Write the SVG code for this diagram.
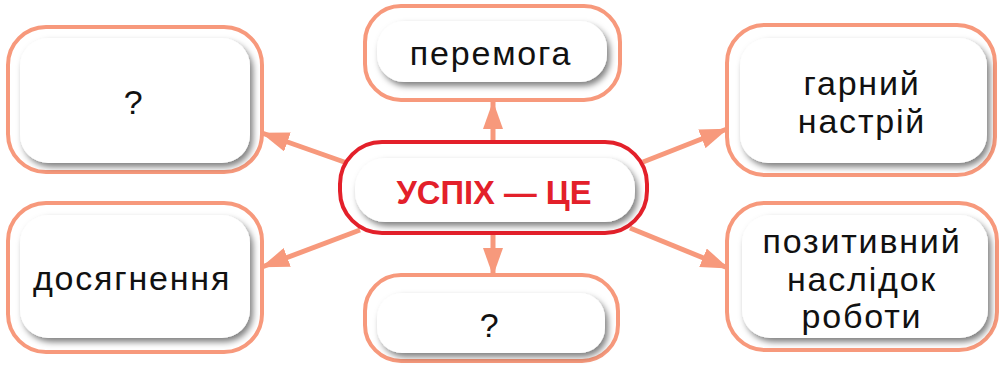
<svg xmlns="http://www.w3.org/2000/svg" width="1000" height="365" viewBox="0 0 1000 365">
<defs>
<filter id="sh" x="-10%" y="-10%" width="125%" height="130%">
<feDropShadow dx="3" dy="4" stdDeviation="3" flood-color="#000" flood-opacity="0.5"/>
</filter>
<marker id="ah" viewBox="0 0 28 20" refX="27" refY="10" markerWidth="28" markerHeight="20" markerUnits="userSpaceOnUse" orient="auto">
<path d="M0,0 L28,10 L0,20 z" fill="#f7997c"/>
</marker>
<style>
.outer{fill:#fff;stroke:#f7997c;stroke-width:4}
.inner{fill:#fff;filter:url(#sh)}
.t{font-family:"Liberation Sans",Arial,sans-serif;font-size:34px;fill:#111;text-anchor:middle;letter-spacing:1.8px}
.conn{stroke:#f7997c;stroke-width:5;fill:none;marker-end:url(#ah)}
</style>
</defs>
<g id="connectors">
<line class="conn" x1="347" y1="163" x2="262" y2="133"/>
<line class="conn" x1="360" y1="230" x2="262" y2="267"/>
<line class="conn" x1="643" y1="162" x2="727" y2="129"/>
<line class="conn" x1="630" y1="228" x2="728" y2="268"/>
<line class="conn" x1="493" y1="142" x2="493" y2="102"/>
<line class="conn" x1="493" y1="233" x2="493" y2="275"/>
</g>
<g id="n-top-left">
<rect class="outer" x="8" y="27" width="254" height="145" rx="38"/>
<rect class="inner" x="20" y="38" width="230" height="125" rx="28"/>
<text class="t" x="134" y="114">?</text>
</g>
<g id="n-bottom-left">
<rect class="outer" x="8" y="203" width="254" height="149" rx="38"/>
<rect class="inner" x="20" y="215" width="230" height="123" rx="28"/>
<text class="t" x="132" y="290">досягнення</text>
</g>
<g id="n-top">
<rect class="outer" x="365" y="6" width="255" height="94" rx="36"/>
<rect class="inner" x="377" y="21" width="230" height="61" rx="27"/>
<text class="t" x="491" y="65">перемога</text>
</g>
<g id="n-bottom">
<rect class="outer" x="365" y="275" width="253" height="86" rx="36"/>
<rect class="inner" x="377" y="293" width="228" height="60" rx="25"/>
<text class="t" x="490" y="337">?</text>
</g>
<g id="n-top-right">
<rect class="outer" x="727" y="25" width="268" height="150" rx="38"/>
<rect class="inner" x="740" y="38" width="247" height="125" rx="28"/>
<text class="t" x="862" y="95">гарний</text>
<text class="t" x="862" y="133">настрій</text>
</g>
<g id="n-bottom-right">
<rect class="outer" x="727" y="203" width="270" height="147" rx="38"/>
<rect class="inner" x="742" y="215" width="246" height="123" rx="28"/>
<text class="t" x="862" y="253">позитивний</text>
<text class="t" x="862" y="291">наслідок</text>
<text class="t" x="862" y="328">роботи</text>
</g>
<g id="n-center">
<rect x="340" y="142" width="307" height="91" rx="42" fill="#fff" stroke="#e3202a" stroke-width="4"/>
<rect class="inner" x="355" y="158" width="280" height="64" rx="30"/>
<text x="494" y="204" font-family="Liberation Sans,Arial,sans-serif" font-size="34" font-weight="bold" fill="#e3202a" text-anchor="middle" textLength="195" lengthAdjust="spacingAndGlyphs">УСПІХ — ЦЕ</text>
</g>
</svg>
